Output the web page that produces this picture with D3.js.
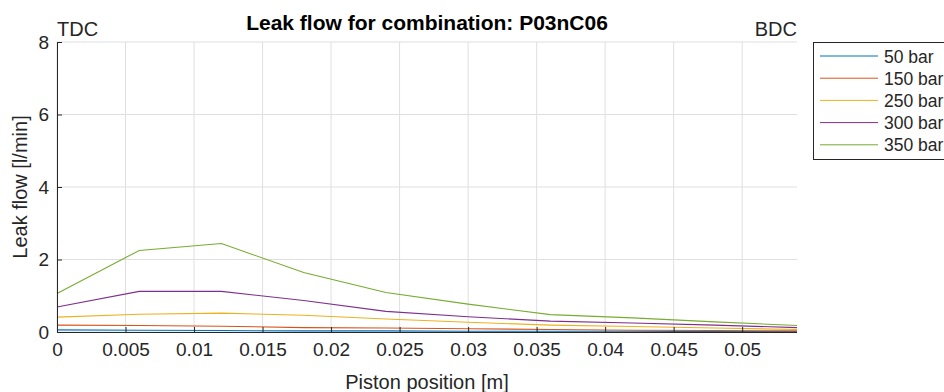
<!DOCTYPE html>
<html>
<head>
<meta charset="utf-8">
<script src="https://cdn.jsdelivr.net/npm/d3@7"></script>
<style>
  body { margin: 0; background: #fff; }
  text { font-family: "Liberation Sans", Arial, sans-serif; fill: #262626; }
  .grid line { stroke: #dfdfdf; stroke-width: 1; }
  .axis path, .axis line { stroke: #262626; }
</style>
</head>
<body>
<div id="chart"></div>
<script>
// piston positions [m]
var positions = [0, 0.006, 0.012, 0.018, 0.024, 0.030, 0.036, 0.042, 0.048, 0.054];
var seriesNames = ["50 bar", "150 bar", "250 bar", "300 bar", "350 bar"];
var flow50  = [0.06, 0.05, 0.04, 0.03, 0.03, 0.02, 0.02, 0.02, 0.01, 0.01];
var flow150 = [0.19, 0.18, 0.16, 0.12, 0.11, 0.09, 0.07, 0.05, 0.04, 0.03];
var flow250 = [0.41, 0.49, 0.52, 0.46, 0.36, 0.27, 0.19, 0.15, 0.11, 0.07];
var flow300 = [0.69, 1.12, 1.12, 0.87, 0.57, 0.42, 0.30, 0.25, 0.19, 0.12];
var flow350 = [1.06, 2.25, 2.44, 1.64, 1.09, 0.77, 0.48, 0.39, 0.28, 0.18];
var xTicks = [0, 0.005, 0.01, 0.015, 0.02, 0.025, 0.03, 0.035, 0.04, 0.045, 0.05];
var yTicks = [0, 2, 4, 6, 8];
var colors = ["#0072BD", "#D95319", "#EDB120", "#7E2F8E", "#77AC30"];

var allFlows = [flow50, flow150, flow250, flow300, flow350];

var outerWidth = 944, outerHeight = 392;
var margin = { top: 42, right: 147, bottom: 60, left: 57 };
var width = outerWidth - margin.left - margin.right,
    height = outerHeight - margin.top - margin.bottom;

var svg = d3.select("#chart").append("svg")
  .attr("width", outerWidth)
  .attr("height", outerHeight);

var g = svg.append("g")
  .attr("transform", "translate(" + margin.left + "," + margin.top + ")");

var xScale = d3.scaleLinear().domain([0, 0.054]).range([0, width]);
var yScale = d3.scaleLinear().domain([0, 8]).range([height, 0]);

// grid
var grid = g.append("g").attr("class", "grid");
grid.selectAll(".vg").data(xTicks).enter().append("line")
  .attr("x1", function(d) { return xScale(d); })
  .attr("x2", function(d) { return xScale(d); })
  .attr("y1", 0).attr("y2", height);
grid.selectAll(".hg").data(yTicks).enter().append("line")
  .attr("x1", 0).attr("x2", width)
  .attr("y1", function(d) { return yScale(d); })
  .attr("y2", function(d) { return yScale(d); });

// lines
var line = d3.line()
  .x(function(d, i) { return xScale(positions[i]); })
  .y(function(d) { return yScale(d); });

g.selectAll(".series").data(allFlows).enter().append("path")
  .attr("class", "series")
  .attr("fill", "none")
  .attr("stroke", function(d, i) { return colors[i]; })
  .attr("stroke-width", 1.1)
  .attr("d", line);

// axes, ticks pointing inward
var xAxis = d3.axisBottom(xScale)
  .tickValues(xTicks)
  .tickSize(-5)
  .tickPadding(11)
  .tickFormat(function(d) { return d === 0 ? "0" : String(+d.toFixed(3)); });
var yAxis = d3.axisLeft(yScale)
  .tickValues(yTicks)
  .tickSize(-5)
  .tickPadding(8)
  .tickFormat(d3.format("d"));

var gx = g.append("g").attr("class", "x axis")
  .attr("transform", "translate(0," + height + ")")
  .call(xAxis);
gx.select(".domain").attr("d", "M0.5,0.5H" + width);
gx.selectAll("text").style("font-size", "19px").style("fill", "#262626");

var gy = g.append("g").attr("class", "y axis").call(yAxis);
gy.select(".domain").attr("d", "M0.5," + height + "V0");
gy.selectAll("text").style("font-size", "19px").style("fill", "#262626");

// title and labels
svg.append("text")
  .attr("x", 427).attr("y", 30)
  .attr("text-anchor", "middle")
  .style("font-size", "21px").style("font-weight", "bold")
  .style("fill", "#000")
  .text("Leak flow for combination: P03nC06");

svg.append("text").attr("x", margin.left).attr("y", 36)
  .style("font-size", "20px").text("TDC");
svg.append("text").attr("x", margin.left + width).attr("y", 36)
  .attr("text-anchor", "end")
  .style("font-size", "20px").text("BDC");

svg.append("text")
  .attr("x", margin.left + width / 2).attr("y", 389)
  .attr("text-anchor", "middle")
  .style("font-size", "20px")
  .text("Piston position [m]");

svg.append("text")
  .attr("transform", "translate(27," + (margin.top + height / 2) + ") rotate(-90)")
  .attr("text-anchor", "middle")
  .style("font-size", "20px")
  .text("Leak flow [l/min]");

// legend (clipped by the right edge of the figure, as in the source)
var legend = svg.append("g").attr("transform", "translate(813,42)");
legend.append("rect")
  .attr("x", 0.5).attr("y", 0.5)
  .attr("width", 140).attr("height", 117)
  .attr("fill", "#fff").attr("stroke", "#262626");
var items = legend.selectAll(".item").data(seriesNames).enter().append("g")
  .attr("transform", function(d, i) { return "translate(0," + (14 + i * 22.2) + ")"; });
items.append("line")
  .attr("x1", 7).attr("x2", 65).attr("y1", 0).attr("y2", 0)
  .attr("stroke", function(d, i) { return colors[i]; });
items.append("text")
  .attr("x", 71).attr("y", 6.5)
  .style("font-size", "17.5px")
  .text(function(d) { return d; });
</script>
</body>
</html>
